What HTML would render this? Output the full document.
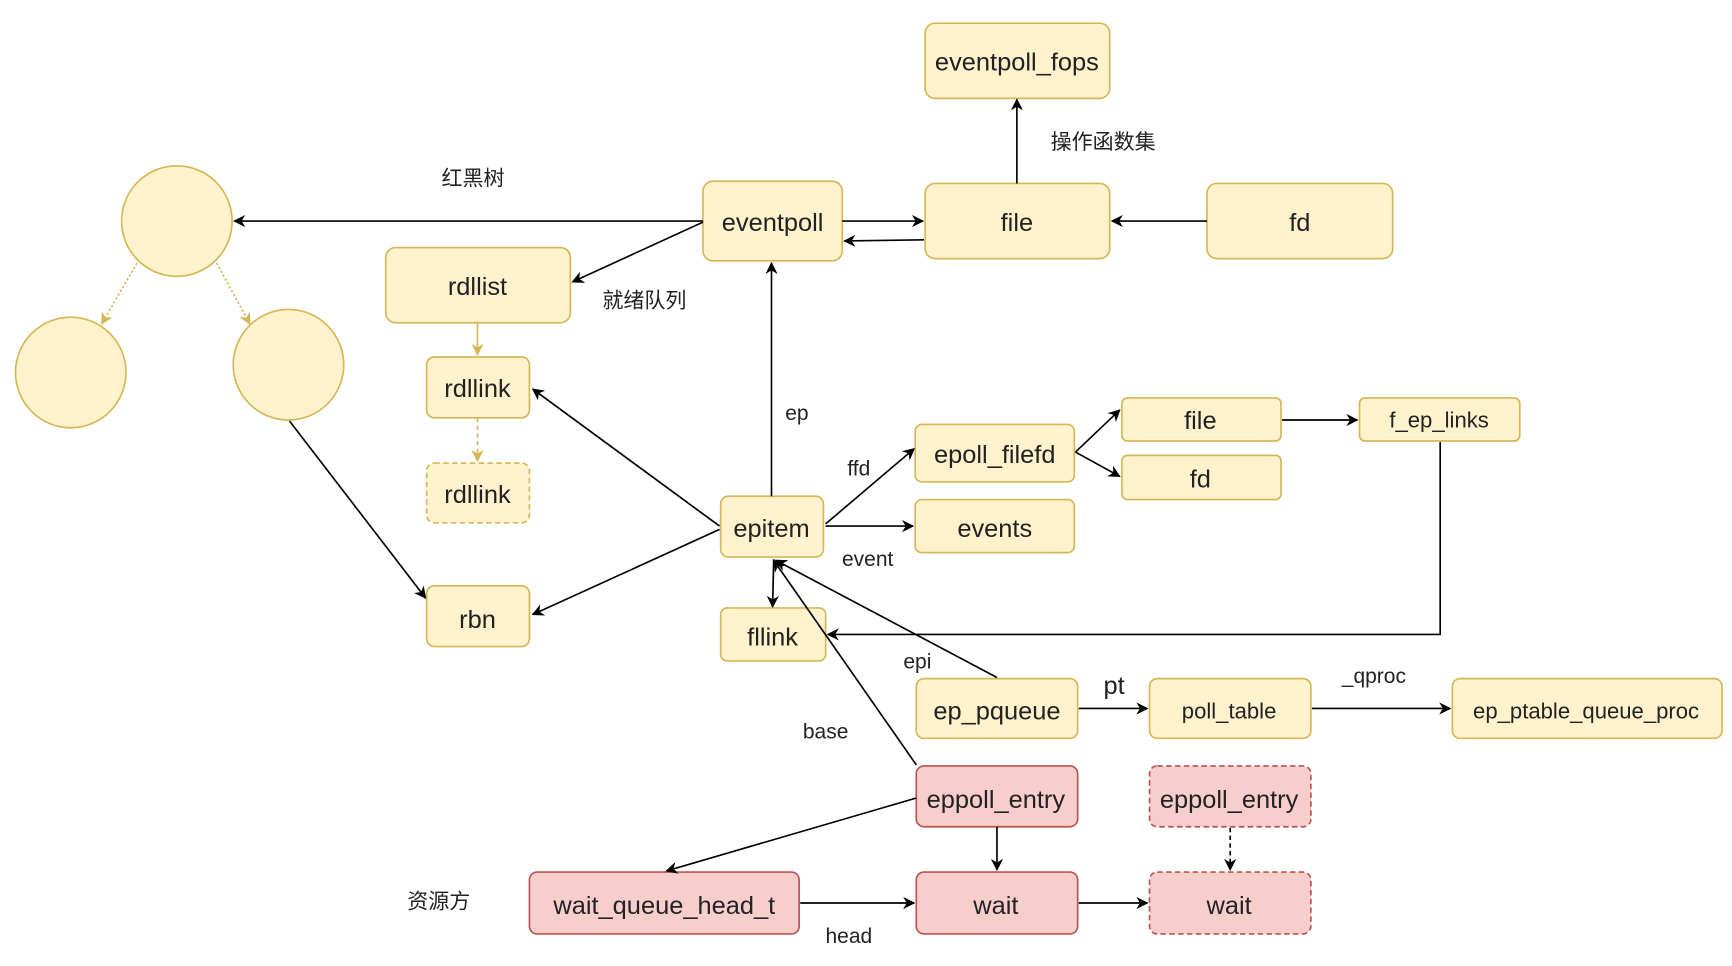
<!DOCTYPE html>
<html><head><meta charset="utf-8"><style>
html,body{margin:0;padding:0;background:#fff;}
svg{display:block;}
text{font-family:"Liberation Sans","Noto Sans CJK SC",sans-serif;fill:#222;}
</style></head><body>
<svg width="1732" height="966" viewBox="0 0 1567 874" preserveAspectRatio="none" xmlns="http://www.w3.org/2000/svg">
<defs>
<marker id="a" viewBox="0 0 10 10" refX="9" refY="5" markerWidth="11" markerHeight="11" markerUnits="userSpaceOnUse" orient="auto"><path d="M0,0 L10,5 L0,10 L3,5 z" fill="#000"/></marker>
<marker id="g" viewBox="0 0 10 10" refX="9" refY="5" markerWidth="11" markerHeight="11" markerUnits="userSpaceOnUse" orient="auto"><path d="M0,0 L10,5 L0,10 L3,5 z" fill="#d6b656"/></marker>
</defs>
<g fill="#fff2cc" stroke="#d6b656" stroke-width="1.5">
<rect x="837" y="21" width="167" height="68" rx="9"/>
<rect x="837" y="166" width="167" height="68" rx="9"/>
<rect x="1092" y="166" width="168" height="68" rx="9"/>
<rect x="636" y="164" width="126" height="72" rx="9"/>
<circle cx="160" cy="200" r="50"/>
<circle cx="64" cy="337" r="50"/>
<circle cx="261" cy="330" r="50"/>
<rect x="349" y="224" width="167" height="68" rx="9"/>
<rect x="386" y="323" width="93" height="55" rx="7"/>
<rect x="386" y="419" width="93" height="54" rx="7" stroke-dasharray="5,3"/>
<rect x="386" y="530" width="93" height="55" rx="7"/>
<rect x="652" y="449" width="93" height="55" rx="7"/>
<rect x="652" y="550" width="95" height="48" rx="6"/>
<rect x="828" y="384" width="144" height="52" rx="6"/>
<rect x="828" y="452" width="144" height="48" rx="6"/>
<rect x="1015" y="360" width="144" height="39" rx="5"/>
<rect x="1015" y="412" width="144" height="40" rx="5"/>
<rect x="1230" y="360" width="145" height="39" rx="5"/>
<rect x="829" y="614" width="146" height="54" rx="7"/>
<rect x="1040" y="614" width="146" height="54" rx="7"/>
<rect x="1314" y="614" width="244" height="54" rx="7"/>
</g>
<g fill="#f8cecc" stroke="#b85450" stroke-width="1.5">
<rect x="829" y="693" width="146" height="55" rx="7"/>
<rect x="1040" y="693" width="146" height="55" rx="7" stroke-dasharray="5,3"/>
<rect x="479" y="789" width="244" height="56" rx="7"/>
<rect x="829" y="789" width="146" height="56" rx="7"/>
<rect x="1040" y="789" width="146" height="56" rx="7" stroke-dasharray="5,3"/>
</g>
<g stroke="#000" stroke-width="1.5" fill="none" marker-end="url(#a)">
<path d="M920,166 L920,90"/>
<path d="M1092,200 L1006,200"/>
<path d="M762,200 L835,200"/>
<path d="M836,217 L764,218"/>
<path d="M636,200 L212,200"/>
<path d="M636,201 L518,255"/>
<path d="M262,381 L385,541"/>
<path d="M651,476 L482,352"/>
<path d="M651,479 L482,556"/>
<path d="M698,449 L698,238"/>
<path d="M747,474 L827,406"/>
<path d="M747,476 L826,476"/>
<path d="M973,409 L1013,371"/>
<path d="M973,409 L1013,431"/>
<path d="M1160,380 L1228,380"/>
<path d="M1303,400 L1303,574 L749,574"/>
<path d="M700,506 L699,549"/>
<path d="M902,613 L702,507"/>
<path d="M829,692 L700,507"/>
<path d="M976,641 L1038,641"/>
<path d="M1187,641 L1312,641"/>
<path d="M829,722 L603,788"/>
<path d="M902,748 L902,787"/>
<path d="M1113,749 L1113,787" stroke-dasharray="4,3"/>
<path d="M724,817 L827,817"/>
<path d="M976,817 L1038,817"/>
</g>
<g stroke="#d6b656" stroke-width="1.5" fill="none" marker-end="url(#g)">
<path d="M432,292 L432,321"/>
<path d="M432,378 L432,417" stroke-dasharray="4,3"/>
<path d="M124,238 L92,293" stroke-dasharray="2,2"/>
<path d="M196,238 L226,293" stroke-dasharray="2,2"/>
</g>
<g font-size="23" text-anchor="middle">
<text x="920" y="64">eventpoll_fops</text>
<text x="920" y="209">file</text>
<text x="1176" y="209">fd</text>
<text x="699" y="209">eventpoll</text>
<text x="432" y="267">rdllist</text>
<text x="432" y="359">rdllink</text>
<text x="432" y="455">rdllink</text>
<text x="432" y="568">rbn</text>
<text x="698" y="486">epitem</text>
<text x="699" y="584">fllink</text>
<text x="900" y="419">epoll_filefd</text>
<text x="900" y="486">events</text>
<text x="1086" y="388">file</text>
<text x="1086" y="441">fd</text>
<text x="902" y="651">ep_pqueue</text>
<text x="901" y="731">eppoll_entry</text>
<text x="1112" y="731">eppoll_entry</text>
<text x="601" y="827">wait_queue_head_t</text>
<text x="901" y="827">wait</text>
<text x="1112" y="827">wait</text>
<text x="1008" y="628">pt</text>
</g>
<g font-size="20" text-anchor="middle">
<text x="1302" y="387">f_ep_links</text>
<text x="1112" y="650">poll_table</text>
<text x="1435" y="650">ep_ptable_queue_proc</text>
</g>
<g font-size="19" text-anchor="middle">
<text x="998" y="135">操作函数集</text>
<text x="428" y="168">红黑树</text>
<text x="583" y="278">就绪队列</text>
<text x="397" y="822">资源方</text>
<text x="721" y="380">ep</text>
<text x="777" y="430">ffd</text>
<text x="785" y="512">event</text>
<text x="830" y="605">epi</text>
<text x="747" y="668">base</text>
<text x="1243" y="618">_qproc</text>
<text x="768" y="853">head</text>
</g>
</svg>
</body></html>
